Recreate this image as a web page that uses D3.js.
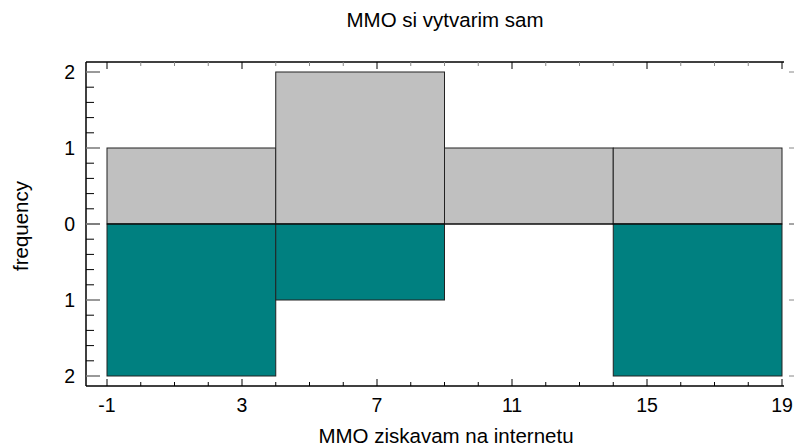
<!DOCTYPE html>
<html>
<head>
<meta charset="utf-8">
<script src="https://cdn.jsdelivr.net/npm/d3@7"></script>
<style>
  body { margin: 0; background: #fff; }
  text { font-family: "Liberation Sans", Arial, sans-serif; fill: #000; }
</style>
</head>
<body>
<div id="chart"></div>
<script>
// Data
const binEdges = [-1, 4, 9, 14, 19];
const upperCounts = [1, 2, 1, 1];   // MMO si vytvarim sam
const lowerCounts = [2, 1, 0, 2];   // MMO ziskavam na internetu
const xTicks = [-1, 3, 7, 11, 15, 19];
const yTicks = [0, 1, 2];

const width = 794, height = 446;
const plot = { left: 86, right: 784, top: 62, bottom: 386 };

const svg = d3.select("#chart").append("svg")
    .attr("width", width)
    .attr("height", height);

// Scales
const x = d3.scaleLinear().domain([-1, 19]).range([107, 782]);
const yUp = d3.scaleLinear().domain([0, 2]).range([224, 72]);
const yDown = d3.scaleLinear().domain([0, 2]).range([224, 376]);

const bins = upperCounts.map((c, i) => ({ x0: binEdges[i], x1: binEdges[i + 1], up: c, down: lowerCounts[i] }));

// Upper (gray) bars
svg.append("g").selectAll("rect")
    .data(bins.filter(d => d.up > 0))
    .join("rect")
    .attr("x", d => x(d.x0))
    .attr("width", d => x(d.x1) - x(d.x0))
    .attr("y", d => yUp(d.up))
    .attr("height", d => yUp(0) - yUp(d.up))
    .attr("fill", "#c0c0c0")
    .attr("stroke", "#222")
    .attr("stroke-width", 1);

// Lower (teal) bars
svg.append("g").selectAll("rect")
    .data(bins.filter(d => d.down > 0))
    .join("rect")
    .attr("x", d => x(d.x0))
    .attr("width", d => x(d.x1) - x(d.x0))
    .attr("y", yDown(0))
    .attr("height", d => yDown(d.down) - yDown(0))
    .attr("fill", "#008080")
    .attr("stroke", "#222")
    .attr("stroke-width", 1);

// Zero line
svg.append("line")
    .attr("x1", x(binEdges[0])).attr("x2", x(binEdges[binEdges.length - 1]))
    .attr("y1", yUp(0)).attr("y2", yUp(0))
    .attr("stroke", "#000");

// Frame lines (left, bottom, top)
const frame = svg.append("g").attr("stroke", "#000").attr("stroke-width", 1.5);
frame.append("line").attr("x1", plot.left).attr("x2", plot.left).attr("y1", plot.top).attr("y2", plot.bottom);
frame.append("line").attr("x1", plot.left).attr("x2", plot.right).attr("y1", plot.bottom).attr("y2", plot.bottom);
frame.append("line").attr("x1", plot.left).attr("x2", plot.right).attr("y1", plot.top).attr("y2", plot.top);

// X ticks (inward, bottom and top)
const xMinor = d3.range(-1, 19.01, 1);
const xt = svg.append("g").attr("stroke", "#000");
xMinor.forEach(v => {
    const major = xTicks.includes(v);
    const len = major ? 7 : 4;
    xt.append("line").attr("x1", x(v)).attr("x2", x(v)).attr("y1", plot.bottom).attr("y2", plot.bottom - len);
    xt.append("line").attr("x1", x(v)).attr("x2", x(v)).attr("y1", plot.top).attr("y2", plot.top + len)
        .attr("stroke", major ? "#000" : "#888");
});
svg.append("g").selectAll("text")
    .data(xTicks)
    .join("text")
    .attr("x", d => x(d))
    .attr("y", 412)
    .attr("text-anchor", "middle")
    .attr("font-size", 19.5)
    .text(d => d);

// Y ticks (inward, minor every 0.2)
const yMinor = d3.range(0, 2.01, 0.2).map(v => +v.toFixed(1));
const yt = svg.append("g");
[yUp, yDown].forEach(sc => {
    yMinor.forEach(v => {
        const major = Number.isInteger(v);
        yt.append("line")
            .attr("x1", plot.left).attr("x2", plot.left + (major ? 14 : 8))
            .attr("y1", sc(v)).attr("y2", sc(v))
            .attr("stroke", major ? "#777" : "#000")
            .attr("stroke-width", major ? 1.5 : 1);
    });
    yTicks.forEach(v => {
        yt.append("line")
            .attr("x1", plot.right + 5).attr("x2", width)
            .attr("y1", sc(v)).attr("y2", sc(v))
            .attr("stroke", "#888");
    });
});
const yLabels = yTicks.map(v => ({ v, s: yUp })).concat(yTicks.filter(v => v > 0).map(v => ({ v, s: yDown })));
svg.append("g").selectAll("text")
    .data(yLabels)
    .join("text")
    .attr("x", 75)
    .attr("y", d => d.s(d.v))
    .attr("dy", "0.36em")
    .attr("text-anchor", "end")
    .attr("font-size", 19.5)
    .text(d => d.v);

// Titles
svg.append("text")
    .attr("x", 445).attr("y", 27)
    .attr("text-anchor", "middle")
    .attr("font-size", 20.5)
    .text("MMO si vytvarim sam");

svg.append("text")
    .attr("x", 446).attr("y", 443)
    .attr("text-anchor", "middle")
    .attr("font-size", 20.5)
    .text("MMO ziskavam na internetu");

svg.append("text")
    .attr("transform", `translate(28,226) rotate(-90)`)
    .attr("text-anchor", "middle")
    .attr("font-size", 20.5)
    .text("frequency");
</script>
</body>
</html>
